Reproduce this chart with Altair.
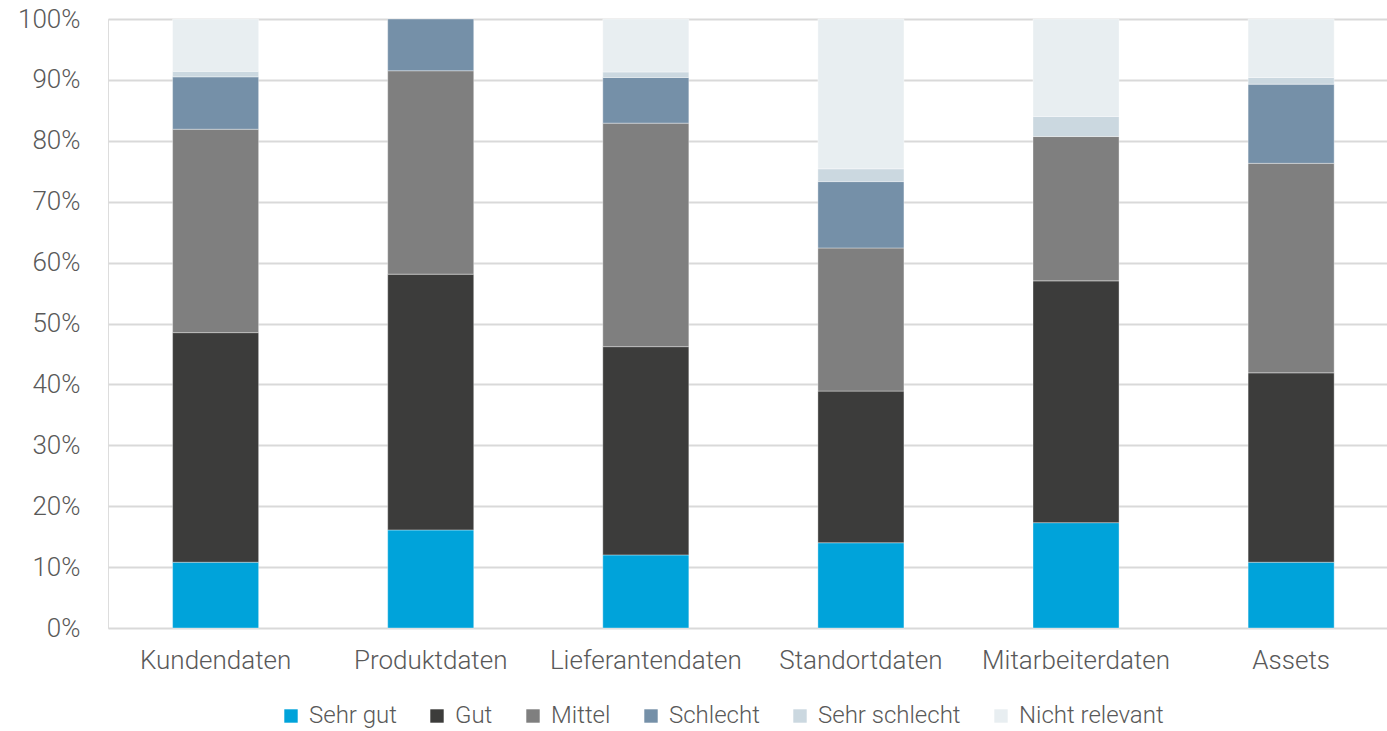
import altair as alt
import pandas as pd

# Datenbereiche (x-Achse)
categories = ["Kundendaten", "Produktdaten", "Lieferantendaten",
              "Standortdaten", "Mitarbeiterdaten", "Assets"]

# Bewertungsstufen, von unten nach oben gestapelt
levels = ["Sehr gut", "Gut", "Mittel", "Schlecht", "Sehr schlecht", "Nicht relevant"]
colors = ["#00A3DA", "#3C3C3B", "#7F7F7F", "#7590A8", "#CBD8E0", "#E8EEF1"]

# Anteile in Prozent je Datenbereich
sehr_gut       = [10.8, 16.1, 12.0, 14.0, 17.3, 10.8]
gut            = [37.7, 42.0, 34.2, 24.9, 39.7, 31.1]
mittel         = [33.4, 33.4, 36.7, 23.5, 23.7, 34.4]
schlecht       = [8.6, 8.5, 7.5, 10.9, 0.0, 13.0]
sehr_schlecht  = [0.9, 0.0, 0.9, 2.1, 3.3, 1.1]
nicht_relevant = [8.6, 0.0, 8.7, 24.6, 16.0, 9.6]

series = [sehr_gut, gut, mittel, schlecht, sehr_schlecht, nicht_relevant]

rows = []
for li, (level, values) in enumerate(zip(levels, series)):
    for cat, v in zip(categories, values):
        if v > 0:
            rows.append({"Bereich": cat, "Bewertung": level, "Anteil": v, "Rang": li})
df = pd.DataFrame(rows)

FONT = "Roboto"
TEXT = "#595959"

chart = (
    alt.Chart(df)
    .mark_bar(stroke="#FFFFFF", strokeWidth=0.6, strokeOpacity=0.6)
    .encode(
        x=alt.X(
            "Bereich:N",
            sort=categories,
            title=None,
            scale=alt.Scale(paddingInner=0.6, paddingOuter=0.273, align=0.55),
            axis=alt.Axis(
                labelAngle=0, ticks=False, domain=False, grid=False,
                labelPadding=19, labelFontSize=26, labelColor=TEXT,
                labelFont=FONT, labelFontWeight=300, labelLimit=0,
            ),
        ),
        y=alt.Y(
            "Anteil:Q",
            stack="zero",
            title=None,
            scale=alt.Scale(domain=[0, 100], nice=False),
            axis=alt.Axis(
                values=list(range(0, 101, 10)),
                labelExpr="datum.value + '%'",
                ticks=False, domain=False,
                gridColor="#D9D9D9", gridWidth=1.8,
                labelPadding=28, labelFontSize=26, labelColor=TEXT,
                labelFont=FONT, labelFontWeight=300,
            ),
        ),
        color=alt.Color(
            "Bewertung:N",
            sort=levels,
            scale=alt.Scale(domain=levels, range=colors),
            legend=alt.Legend(
                title=None,
                orient="none",
                direction="horizontal",
                legendX=171,
                legendY=685,
                symbolType="square",
                symbolSize=180,
                symbolStrokeWidth=0,
                labelFontSize=24,
                labelFont=FONT,
                labelFontWeight=300,
                labelColor=TEXT,
                labelOffset=6,
                labelLimit=0,
                columnPadding=28,
            ),
        ),
        order=alt.Order("Rang:Q", sort="ascending"),
    )
    .properties(
        width=1279,
        height=609,
        padding={"left": 108, "top": 19, "right": 0, "bottom": 103},
        autosize=alt.AutoSizeParams(type="none"),
    )
    .configure_view(stroke=None)
    .configure(background="#FFFFFF")
)

chart.save("out.html", embed_options={"renderer": "svg", "actions": False})
